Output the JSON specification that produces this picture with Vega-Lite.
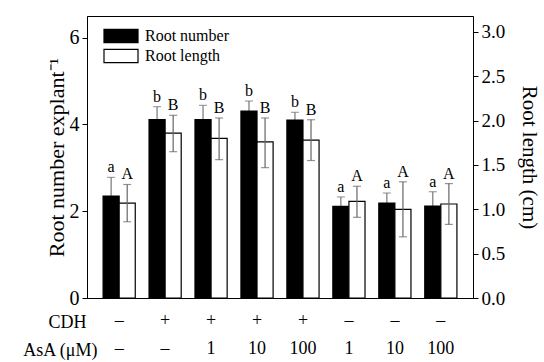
{
  "$schema": "https://vega.github.io/schema/vega-lite/v6.json",
  "width": 386,
  "height": 282,
  "autosize": "none",
  "padding": {"left": 87, "top": 16, "right": 71, "bottom": 64},
  "config": {
    "font": "Liberation Serif",
    "view": {"stroke": "black", "strokeWidth": 1},
    "axis": {"grid": false, "domainColor": "black", "tickColor": "black", "labelColor": "black", "titleColor": "black", "titleFontWeight": "normal", "labelFont": "Liberation Serif", "titleFont": "Liberation Serif"}
  },
  "datasets": {
    "num": [
      {"group": "–|–", "series": "Root number", "mean": 2.35, "lo": 1.92, "hi": 2.78, "letter": "a"},
      {"group": "+|–", "series": "Root number", "mean": 4.11, "lo": 3.81, "hi": 4.41, "letter": "b"},
      {"group": "+|1", "series": "Root number", "mean": 4.11, "lo": 3.78, "hi": 4.44, "letter": "b"},
      {"group": "+|10", "series": "Root number", "mean": 4.31, "lo": 4.08, "hi": 4.54, "letter": "b"},
      {"group": "+|100", "series": "Root number", "mean": 4.10, "lo": 3.92, "hi": 4.28, "letter": "b"},
      {"group": "–|1", "series": "Root number", "mean": 2.11, "lo": 1.89, "hi": 2.33, "letter": "a"},
      {"group": "–|10", "series": "Root number", "mean": 2.19, "lo": 1.96, "hi": 2.42, "letter": "a"},
      {"group": "–|100", "series": "Root number", "mean": 2.12, "lo": 1.79, "hi": 2.45, "letter": "a"}
    ],
    "len": [
      {"group": "–|–", "series": "Root length", "mean": 1.07, "lo": 0.86, "hi": 1.28, "letter": "A"},
      {"group": "+|–", "series": "Root length", "mean": 1.86, "lo": 1.65, "hi": 2.06, "letter": "B"},
      {"group": "+|1", "series": "Root length", "mean": 1.80, "lo": 1.56, "hi": 2.03, "letter": "B"},
      {"group": "+|10", "series": "Root length", "mean": 1.76, "lo": 1.47, "hi": 2.03, "letter": "B"},
      {"group": "+|100", "series": "Root length", "mean": 1.78, "lo": 1.55, "hi": 2.01, "letter": "B"},
      {"group": "–|1", "series": "Root length", "mean": 1.09, "lo": 0.91, "hi": 1.26, "letter": "A"},
      {"group": "–|10", "series": "Root length", "mean": 1.00, "lo": 0.69, "hi": 1.31, "letter": "A"},
      {"group": "–|100", "series": "Root length", "mean": 1.06, "lo": 0.83, "hi": 1.29, "letter": "A"}
    ]
  },
  "layer": [
    {
      "data": {"name": "num"},
      "encoding": {
        "x": {
          "field": "group", "type": "nominal", "sort": null,
          "scale": {"domain": ["–|–", "+|–", "+|1", "+|10", "+|100", "–|1", "–|10", "–|100"], "paddingInner": 0.3, "paddingOuter": 0.35},
          "axis": {
            "orient": "bottom",
            "title": "CDH",
            "labelExpr": "split(datum.label, '|')[0]",
            "labelAngle": 0,
            "labelFont": "Liberation Serif",
            "labelFontSize": 18,
            "labelPadding": 13,
            "ticks": false,
            "titleFont": "Liberation Serif",
            "titleFontSize": 18,
            "titleX": -1,
            "titleY": 29,
            "titleAlign": "right",
            "titleAnchor": null,
            "titleBaseline": "alphabetic"
          }
        },
        "xOffset": {"field": "series", "type": "nominal", "scale": {"domain": ["Root number", "Root length"]}},
        "y": {
          "field": "mean", "type": "quantitative",
          "scale": {"domain": [0, 6.5], "nice": false, "zero": true},
          "axis": {"orient": "left", "title": "Root number explant⁻¹", "values": [0, 2, 4, 6], "tickSize": 5, "labelFont": "Liberation Serif", "titleFont": "Liberation Serif", "labelFontSize": 20, "titleFontSize": 22, "labelPadding": 3, "titlePadding": 1}
        }
      },
      "layer": [
        {"mark": {"type": "rule", "color": "#777", "strokeWidth": 1.2}, "encoding": {"y": {"field": "lo", "type": "quantitative"}, "y2": {"field": "hi"}}},
        {"mark": {"type": "tick", "color": "#777", "size": 8, "thickness": 1.2}, "encoding": {"y": {"field": "hi", "type": "quantitative"}}},
        {
          "mark": {"type": "bar", "stroke": "black", "strokeWidth": 1.2},
          "encoding": {
            "color": {"field": "series", "type": "nominal", "scale": {"domain": ["Root number", "Root length"], "range": ["black", "white"]},
              "legend": {"orient": "none", "legendX": 26, "legendY": 12, "title": null, "symbolType": "M-2.6,-1H2.6V1H-2.6Z", "symbolSize": 171, "symbolStrokeColor": "black", "symbolStrokeWidth": 1.2, "labelFont": "Liberation Serif", "labelFontSize": 16, "labelColor": "black", "labelOffset": 16, "rowPadding": 2}}
          }
        },
        {"mark": {"type": "text", "baseline": "bottom", "dy": -2, "fontSize": 16, "color": "black", "font": "Liberation Serif"}, "encoding": {"y": {"field": "hi", "type": "quantitative"}, "text": {"field": "letter"}}}
      ]
    },
    {
      "data": {"name": "len"},
      "encoding": {
        "x": {
          "field": "group", "type": "nominal", "sort": null,
          "axis": {
            "orient": "bottom",
            "title": "AsA (μM)",
            "labelExpr": "split(datum.label, '|')[1]",
            "labelAngle": 0,
            "labelFont": "Liberation Serif",
            "labelFontSize": 18,
            "labelPadding": 41,
            "ticks": false,
            "domain": false,
            "titleFont": "Liberation Serif",
            "titleFontSize": 18,
            "titleX": 10,
            "titleY": 57,
            "titleAlign": "right",
            "titleAnchor": null,
            "titleBaseline": "alphabetic"
          }
        },
        "xOffset": {"field": "series", "type": "nominal"},
        "y": {
          "field": "mean", "type": "quantitative",
          "scale": {"domain": [0, 3.18], "nice": false, "zero": true},
          "axis": {"orient": "right", "title": "Root length (cm)", "values": [0, 0.5, 1, 1.5, 2, 2.5, 3], "format": ".1f", "tickSize": 5, "labelFont": "Liberation Serif", "titleFont": "Liberation Serif", "labelFontSize": 19, "titleFontSize": 21, "labelPadding": 3, "titlePadding": 14}
        }
      },
      "layer": [
        {"mark": {"type": "bar", "stroke": "black", "strokeWidth": 1.2}, "encoding": {"color": {"field": "series", "type": "nominal"}}},
        {"mark": {"type": "rule", "color": "#666", "strokeWidth": 1.2}, "encoding": {"y": {"field": "lo", "type": "quantitative"}, "y2": {"field": "hi"}}},
        {"mark": {"type": "tick", "color": "#666", "size": 8, "thickness": 1.2}, "encoding": {"y": {"field": "hi", "type": "quantitative"}}},
        {"mark": {"type": "tick", "color": "#666", "size": 8, "thickness": 1.2}, "encoding": {"y": {"field": "lo", "type": "quantitative"}}},
        {"mark": {"type": "text", "baseline": "bottom", "dy": -2, "fontSize": 16, "color": "black", "font": "Liberation Serif"}, "encoding": {"y": {"field": "hi", "type": "quantitative"}, "text": {"field": "letter"}}}
      ]
    }
  ],
  "resolve": {"scale": {"y": "independent"}, "axis": {"x": "independent"}}
}
